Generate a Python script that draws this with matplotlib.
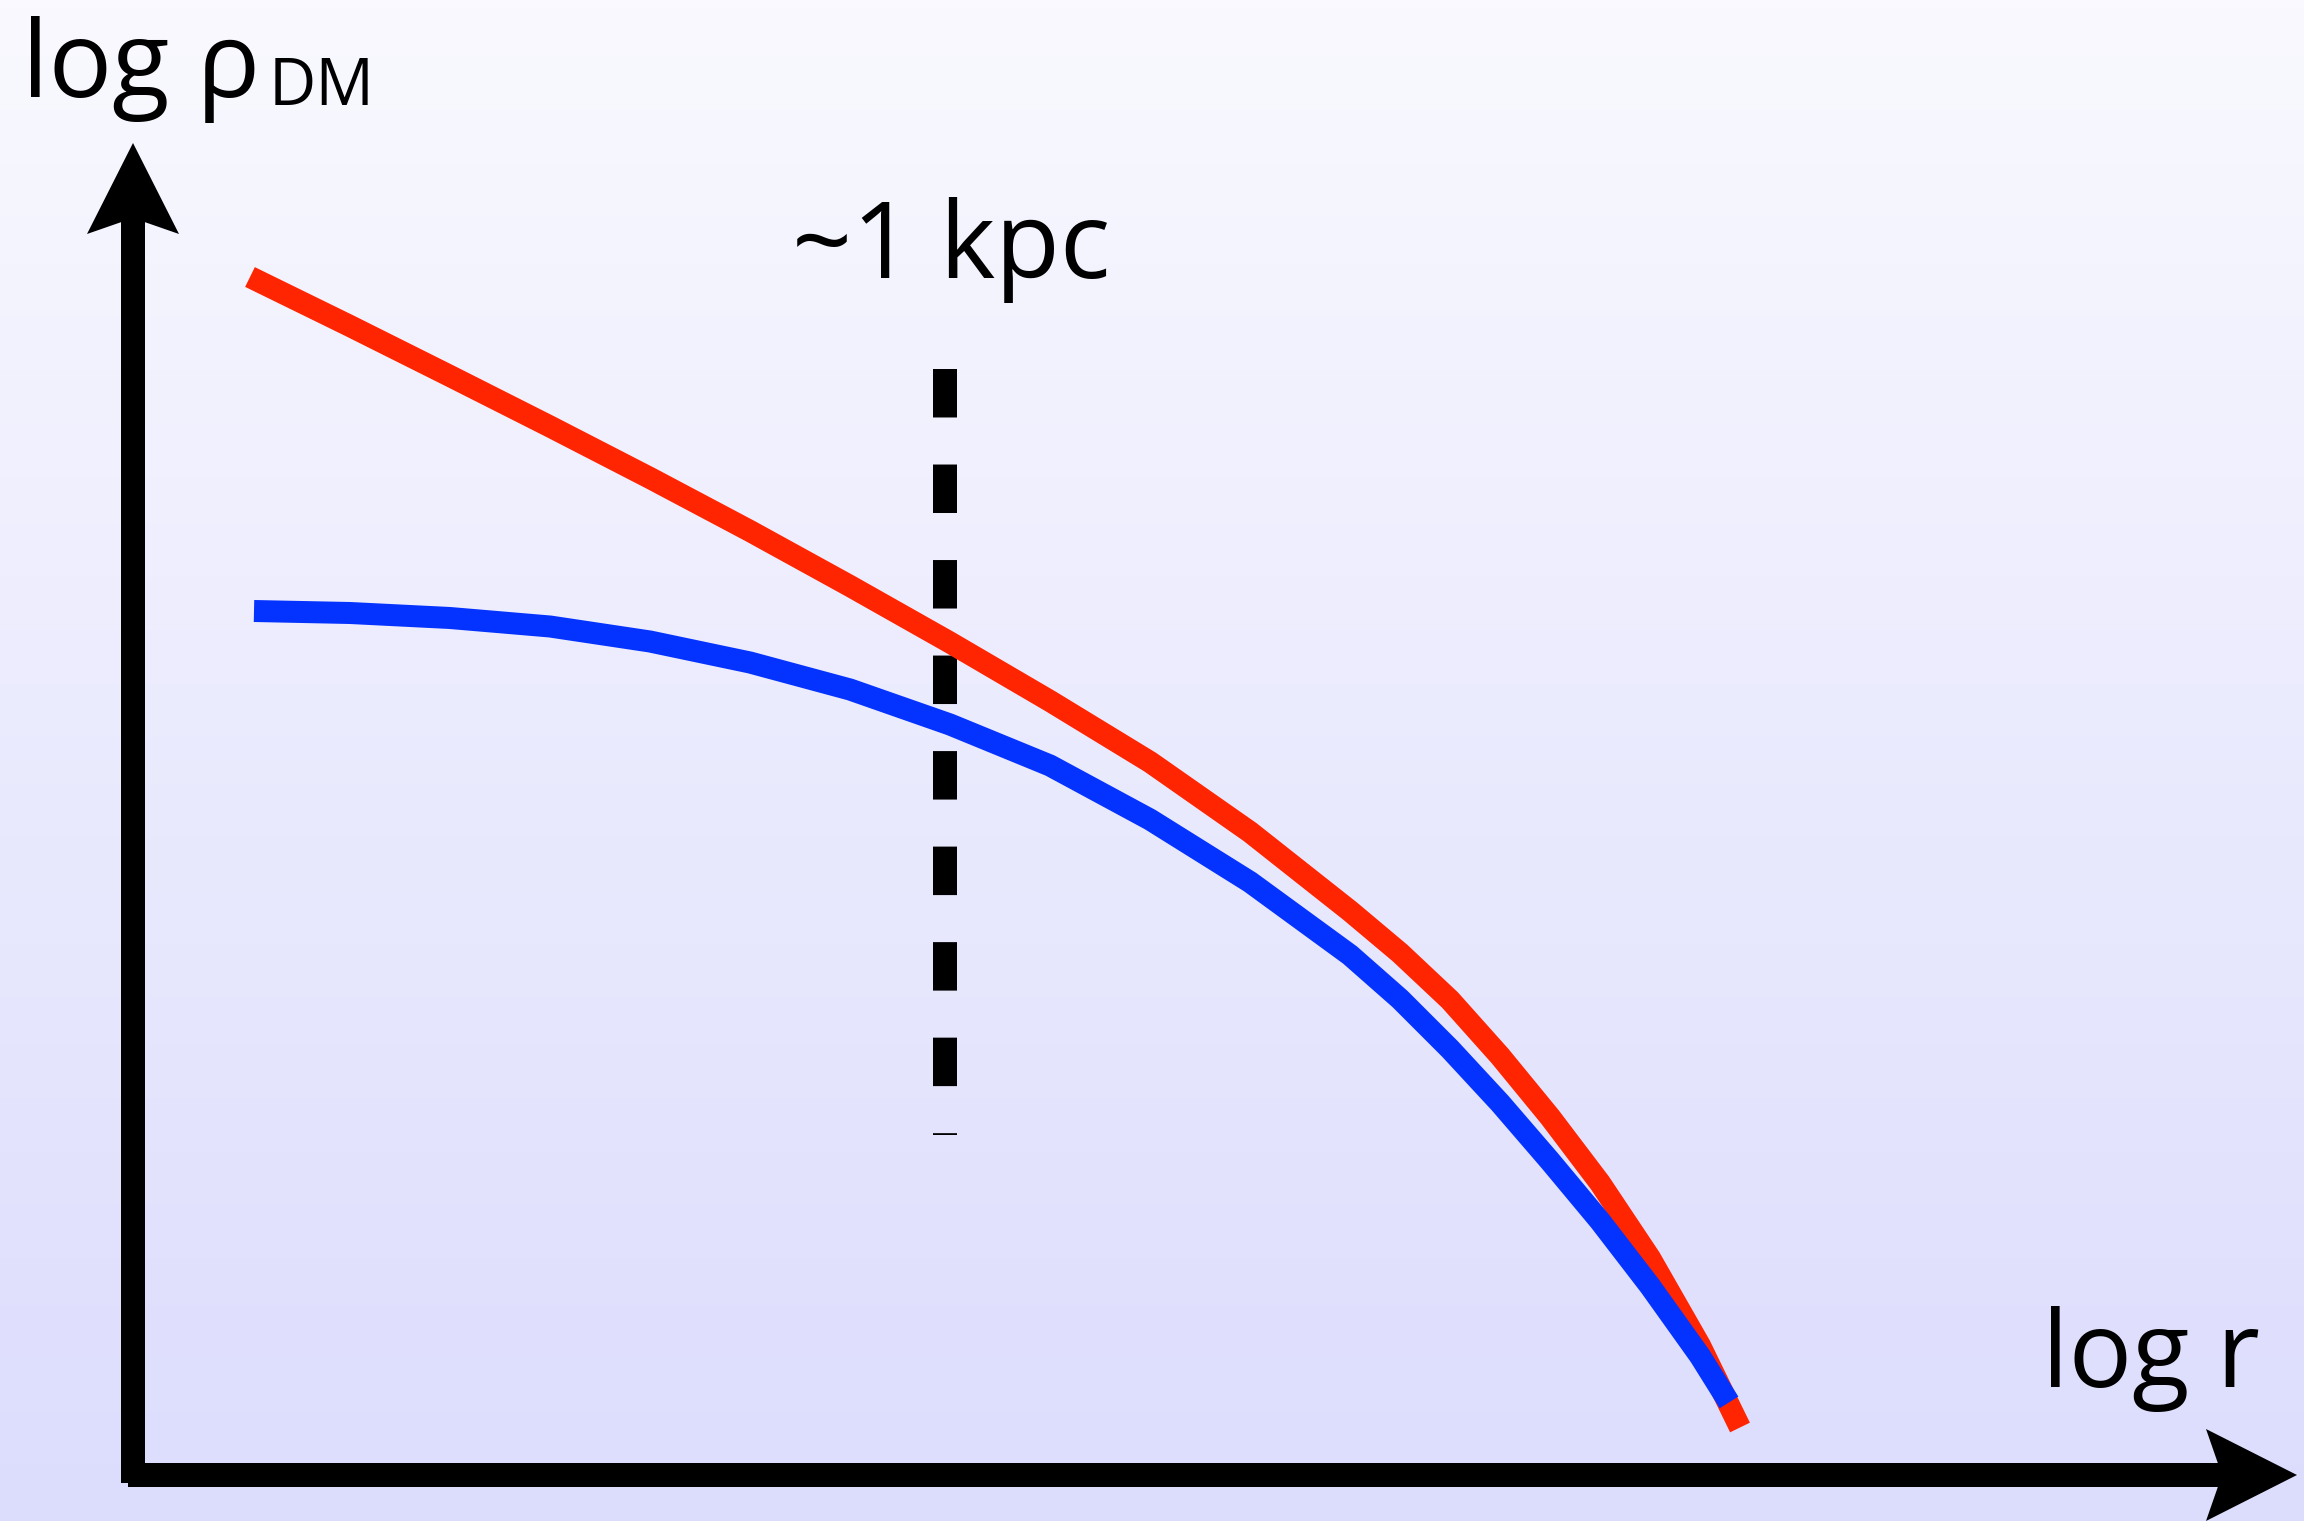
import numpy as np
import matplotlib
matplotlib.use("Agg")
import matplotlib.pyplot as plt
from matplotlib.patches import Polygon
from matplotlib.colors import LinearSegmentedColormap

# ---- data (arbitrary log units, origin at the axes corner) ----
cusp_logr = [1.17, 2.17, 3.17, 4.17, 5.17, 6.17, 7.17, 8.17, 9.17, 10.17,
             11.17, 12.17, 12.67, 13.17, 13.67, 14.17, 14.67, 15.17, 15.67, 16.07]
cusp_logrho = [11.98, 11.49, 10.99, 10.485, 9.97, 9.44, 8.89, 8.325, 7.74, 7.13,
               6.43, 5.64, 5.22, 4.75, 4.19, 3.58, 2.92, 2.17, 1.295, 0.475]

core_logr = [1.21, 2.17, 3.17, 4.17, 5.17, 6.17, 7.17, 8.17, 9.17, 10.17,
             11.17, 12.17, 12.67, 13.17, 13.67, 14.17, 14.67, 15.17, 15.67, 15.96]
core_logrho = [8.64, 8.62, 8.57, 8.485, 8.335, 8.125, 7.855, 7.505, 7.095, 6.555,
               5.93, 5.20, 4.76, 4.26, 3.72, 3.14, 2.54, 1.89, 1.19, 0.726]

kpc_logr = 8.12
kpc_span = [11.06, 3.40]

y_label = "log ρ"
y_label_sub = "DM"
x_label = "log r"
kpc_label = "~1 kpc"

# ---- figure ----
W, H, DPI = 2304, 1521, 100
fig = plt.figure(figsize=(W / DPI, H / DPI), dpi=DPI)
ax = fig.add_axes([0, 0, 1, 1])
xmin, xmax = -1.33, 21.71
ymin, ymax = -0.46, 14.75
ax.set_xlim(xmin, xmax)
ax.set_ylim(ymin, ymax)
ax.axis("off")

# background gradient
cmap = LinearSegmentedColormap.from_list("bg", ["#dcdcfd", "#f9f9ff"])
grad = np.linspace(0, 1, 256).reshape(-1, 1)
ax.imshow(grad, cmap=cmap, origin="lower", extent=[xmin, xmax, ymin, ymax],
          aspect="auto", zorder=0, interpolation="bilinear")

FONT = ["Open Sans", "DejaVu Sans"]
lw_axis = 24 * 72 / DPI
lw_curve = 22 * 72 / DPI

# axes arrows
head_len, notch, half_w = 0.91, 0.16, 0.46
ytip, xtip = 13.32, 21.64
ax.plot([0, 0], [-0.08, ytip - head_len + notch + 0.02], color="black",
        lw=lw_axis, solid_capstyle="butt", zorder=3)
ax.add_patch(Polygon([[0, ytip], [half_w, ytip - head_len], [0, ytip - head_len + notch],
                      [-half_w, ytip - head_len]], closed=True, color="black", lw=0, zorder=3))
ax.plot([-0.05, xtip - head_len + notch + 0.02], [0, 0], color="black",
        lw=lw_axis, solid_capstyle="butt", zorder=3)
ax.add_patch(Polygon([[xtip, 0], [xtip - head_len, half_w], [xtip - head_len + notch, 0],
                      [xtip - head_len, -half_w]], closed=True, color="black", lw=0, zorder=3))

# curves
ax.plot(cusp_logr, cusp_logrho, color="#ff2500", lw=lw_curve,
        solid_capstyle="butt", solid_joinstyle="round", zorder=4)
ax.plot(core_logr, core_logrho, color="#0433ff", lw=lw_curve,
        solid_capstyle="butt", solid_joinstyle="round", zorder=5)

# ~1 kpc dashed line
ax.plot([kpc_logr, kpc_logr], kpc_span, color="black", lw=lw_axis,
        dashes=(2.02, 1.96), dash_capstyle="butt", zorder=2)

# texts
ax.text(-1.11, 13.78, y_label, fontsize=76, family=FONT, color="black",
        ha="left", va="baseline", zorder=6)
ax.text(1.36, 13.70, y_label_sub, fontsize=47, family=FONT, color="black",
        ha="left", va="baseline", zorder=6)
ax.text(6.59, 11.97, kpc_label, fontsize=76, family=FONT, color="black",
        ha="left", va="baseline", zorder=6)
ax.text(19.09, 0.88, x_label, fontsize=76, family=FONT, color="black",
        ha="left", va="baseline", zorder=6)

fig.savefig("out.png", dpi=DPI)
